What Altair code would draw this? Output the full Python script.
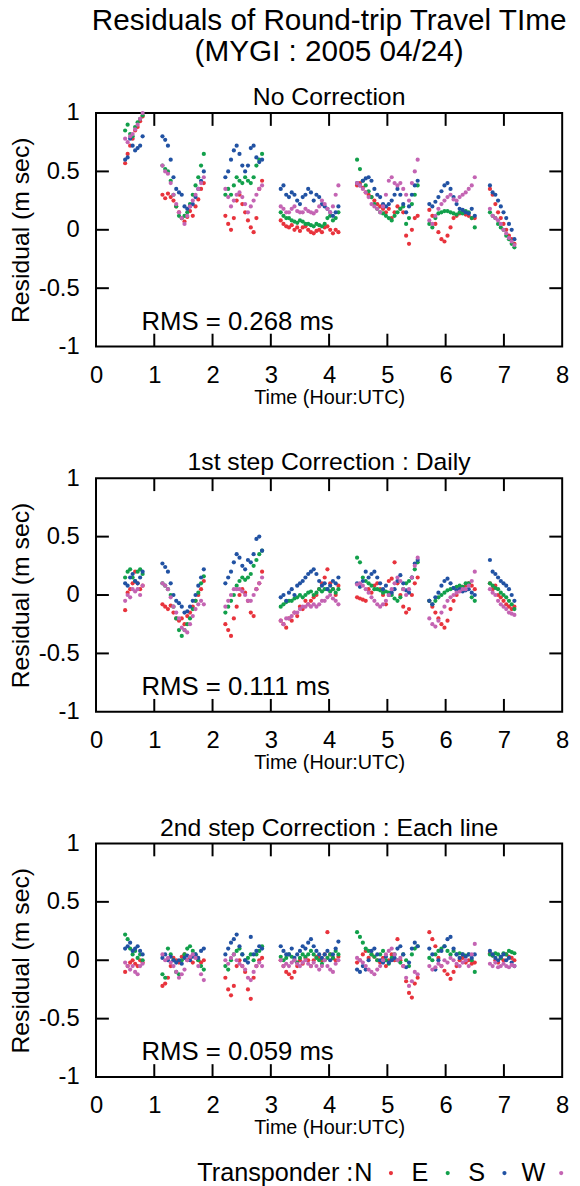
import altair as alt
import pandas as pd

FONT = "Liberation Sans"
SERIES = ["N", "E", "S", "W"]
COLORS = ["#e8333c", "#12a04b", "#2152a3", "#c464b3"]
PANEL_TITLES = ["No Correction", "1st step Correction : Daily", "2nd step Correction : Each line"]
RMS_TEXT = ["RMS = 0.268 ms", "RMS = 0.111 ms", "RMS = 0.059 ms"]
MAIN_TITLE = ["Residuals of Round-trip Travel TIme", "(MYGI : 2005 04/24)"]
X_TICKS = [0, 1, 2, 3, 4, 5, 6, 7, 8]
Y_TICKS = [-1, -0.5, 0, 0.5, 1]
INNER_X = [1, 2, 3, 4, 5, 6, 7]
INNER_Y = [-0.5, 0, 0.5]

# observation lines (hour UTC): start / end of each survey line
SEG_START = [0.50, 1.14, 2.22, 3.17, 4.48, 5.72, 6.76]
SEG_END = [0.80, 1.85, 2.85, 4.16, 5.52, 6.50, 7.18]

# ---------------- No Correction ----------------
P1_N = [
    [0.57, 0.65, 0.72, 0.78, 0.85, 0.88, 0.93, 0.97],
    [0.30, 0.27, 0.31, 0.28, 0.25, 0.20, 0.15, 0.10, 0.07, 0.11, 0.16, 0.12, 0.20, 0.26, 0.35, 0.40],
    [0.12, 0.05, 0.00, 0.10, 0.25, 0.30, 0.22, 0.15, 0.08, 0.02, -0.02, 0.10, 0.35, 0.42],
    [0.08, 0.05, 0.03, 0.02, 0.04, 0.00, 0.02, -0.01, 0.02, 0.03, 0.00, -0.02, -0.03, -0.01, 0.00, -0.02, 0.02, 0.03, 0.00, -0.03, 0.00, -0.02],
    [0.38, 0.40, 0.36, 0.32, 0.30, 0.28, 0.25, 0.22, 0.20, 0.18, 0.15, 0.18, 0.10, 0.15, 0.20, 0.18, 0.15, -0.05, -0.12, 0.00, 0.10, 0.12],
    [0.17, 0.12, 0.05, -0.02, -0.08, -0.10, -0.05, 0.02, 0.10, 0.12, 0.14, 0.15, 0.13, 0.12, 0.10, 0.10],
    [0.35, 0.30, 0.22, 0.15, 0.10, 0.05, 0.00, -0.05, -0.08, -0.12],
]
P1_E = [
    [0.85, 0.90, 0.82, 0.80, 0.88, 0.92, 0.95, 0.98],
    [0.55, 0.52, 0.50, 0.42, 0.30, 0.20, 0.12, 0.10, 0.12, 0.15, 0.22, 0.30, 0.38, 0.45, 0.55, 0.65],
    [0.30, 0.35, 0.30, 0.38, 0.45, 0.42, 0.40, 0.45, 0.42, 0.40, 0.45, 0.55, 0.60, 0.65],
    [0.15, 0.12, 0.10, 0.10, 0.08, 0.07, 0.06, 0.08, 0.07, 0.05, 0.05, 0.04, 0.03, 0.05, 0.04, 0.03, 0.05, 0.10, 0.12, 0.08, 0.10, 0.15],
    [0.60, 0.52, 0.42, 0.38, 0.33, 0.28, 0.22, 0.18, 0.15, 0.14, 0.12, 0.10, 0.08, 0.12, 0.15, 0.18, 0.20, 0.05, 0.10, 0.22, 0.30, 0.38],
    [0.05, 0.02, 0.10, 0.14, 0.15, 0.16, 0.16, 0.15, 0.14, 0.13, 0.15, 0.14, 0.16, 0.15, 0.10, 0.02],
    [0.15, 0.12, 0.10, 0.05, 0.02, 0.00, -0.05, -0.08, -0.12, -0.15],
]
P1_S = [
    [0.60, 0.62, 0.78, 0.72, 0.68, 0.70, 0.72, 0.80],
    [0.80, 0.77, 0.72, 0.60, 0.45, 0.35, 0.32, 0.30, 0.20, 0.18, 0.20, 0.22, 0.28, 0.35, 0.42, 0.50],
    [0.45, 0.50, 0.60, 0.68, 0.72, 0.65, 0.55, 0.50, 0.55, 0.70, 0.72, 0.62, 0.58, 0.60],
    [0.35, 0.38, 0.30, 0.28, 0.32, 0.30, 0.25, 0.22, 0.28, 0.30, 0.35, 0.32, 0.25, 0.30, 0.28, 0.22, 0.20, 0.18, 0.15, 0.12, 0.15, 0.20],
    [0.40, 0.38, 0.42, 0.44, 0.45, 0.42, 0.35, 0.30, 0.28, 0.22, 0.20, 0.22, 0.25, 0.30, 0.35, 0.30, 0.22, 0.15, 0.20, 0.30, 0.38, 0.42],
    [0.22, 0.20, 0.24, 0.28, 0.33, 0.38, 0.40, 0.35, 0.28, 0.22, 0.18, 0.17, 0.15, 0.14, 0.18, 0.12],
    [0.38, 0.32, 0.30, 0.25, 0.20, 0.15, 0.10, 0.05, 0.00, -0.08],
]
P1_W = [
    [0.78, 0.75, 0.80, 0.82, 0.86, 0.90, 0.95, 1.00],
    [0.55, 0.50, 0.48, 0.40, 0.30, 0.22, 0.15, 0.10, 0.05, 0.12, 0.20, 0.25, 0.30, 0.35, 0.40, 0.45],
    [0.35, 0.28, 0.20, 0.25, 0.30, 0.32, 0.28, 0.22, 0.15, 0.20, 0.25, 0.30, 0.35, 0.38],
    [0.20, 0.18, 0.15, 0.15, 0.18, 0.20, 0.16, 0.15, 0.15, 0.18, 0.16, 0.15, 0.14, 0.16, 0.20, 0.25, 0.22, 0.18, 0.15, 0.20, 0.30, 0.38],
    [0.40, 0.38, 0.35, 0.32, 0.28, 0.22, 0.20, 0.18, 0.15, 0.20, 0.30, 0.42, 0.45, 0.40, 0.38, 0.40, 0.35, 0.30, 0.25, 0.40, 0.50, 0.60],
    [0.08, 0.05, 0.12, 0.18, 0.22, 0.25, 0.28, 0.30, 0.26, 0.25, 0.28, 0.30, 0.32, 0.35, 0.38, 0.45],
    [0.18, 0.12, 0.10, 0.08, 0.05, 0.00, -0.03, -0.07, -0.10, -0.13],
]

# ---------------- 1st step Correction : Daily ----------------
P2_N = [
    [-0.13, 0.02, 0.05, 0.10, 0.20, 0.10, 0.05, 0.08],
    [-0.08, -0.10, -0.12, -0.09, -0.15, -0.20, -0.22, -0.20, -0.25, -0.18, -0.15, -0.10, -0.05, 0.00, 0.05, 0.12],
    [-0.25, -0.30, -0.35, -0.20, -0.10, 0.00, 0.05, 0.02, -0.05, -0.15, -0.18, 0.05, 0.10, 0.20],
    [-0.22, -0.25, -0.28, -0.20, -0.22, -0.15, -0.18, -0.10, -0.12, -0.05, -0.08, -0.05, -0.02, 0.00, 0.05, 0.10, 0.15, 0.22, 0.10, 0.05, 0.00, 0.08],
    [-0.02, -0.03, -0.04, -0.05, 0.05, 0.02, 0.08, 0.10, 0.05, 0.00, -0.08, 0.12, 0.14, 0.28, 0.10, 0.00, -0.10, -0.15, -0.12, 0.00, 0.10, 0.15],
    [-0.05, -0.10, -0.15, -0.20, -0.25, -0.28, -0.22, -0.12, -0.05, 0.00, 0.05, 0.07, 0.08, 0.10, 0.08, 0.05],
    [0.10, 0.05, 0.08, 0.00, -0.02, -0.05, -0.08, -0.10, -0.12, -0.10],
]
P2_E = [
    [0.15, 0.20, 0.22, 0.15, 0.12, 0.20, 0.22, 0.18],
    [0.10, 0.08, 0.05, 0.00, -0.10, -0.20, -0.30, -0.35, -0.30, -0.25, -0.20, -0.12, -0.05, 0.02, 0.10, 0.16],
    [-0.15, -0.10, -0.05, 0.00, 0.08, 0.12, 0.15, 0.13, 0.15, 0.18, 0.25, 0.30, 0.35, 0.38],
    [-0.10, -0.08, -0.06, -0.05, -0.05, -0.03, -0.02, 0.00, -0.02, 0.00, 0.02, 0.03, 0.00, 0.02, 0.05, 0.03, 0.05, 0.05, 0.03, 0.05, 0.02, 0.05],
    [0.32, 0.28, 0.15, 0.12, 0.10, 0.08, 0.05, 0.05, 0.04, 0.02, 0.03, 0.02, 0.00, -0.03, -0.05, -0.02, 0.05, 0.10, 0.12, 0.15, 0.22, 0.28],
    [-0.05, -0.08, -0.05, -0.02, 0.00, 0.02, 0.04, 0.05, 0.06, 0.07, 0.08, 0.07, 0.10, 0.10, -0.02, -0.05],
    [0.10, 0.08, 0.06, 0.05, 0.02, 0.00, -0.02, -0.05, -0.08, -0.12],
]
P2_S = [
    [0.10, 0.08, 0.15, 0.18, 0.12, 0.10, 0.15, 0.20],
    [0.27, 0.24, 0.20, 0.10, 0.00, -0.05, -0.07, -0.10, -0.15, -0.14, -0.10, -0.05, 0.00, 0.08, 0.15, 0.22],
    [0.10, 0.15, 0.20, 0.28, 0.35, 0.32, 0.25, 0.22, 0.30, 0.28, 0.35, 0.48, 0.50, 0.38],
    [-0.02, 0.00, -0.05, 0.02, 0.05, 0.00, 0.08, 0.10, 0.12, 0.15, 0.18, 0.20, 0.22, 0.18, 0.12, 0.08, 0.10, 0.05, 0.08, 0.12, 0.10, 0.15],
    [0.10, 0.07, 0.12, 0.20, 0.15, 0.18, 0.20, 0.15, 0.10, 0.05, 0.08, 0.00, 0.02, 0.05, 0.12, 0.17, 0.10, 0.04, 0.02, 0.15, 0.27, 0.30],
    [-0.05, -0.08, -0.02, 0.02, 0.08, 0.12, 0.14, 0.10, 0.06, 0.04, 0.05, 0.03, 0.04, 0.05, 0.02, 0.00],
    [0.30, 0.20, 0.18, 0.15, 0.12, 0.10, 0.08, 0.05, 0.00, -0.05],
]
P2_W = [
    [-0.05, 0.00, -0.02, 0.05, 0.03, 0.05, 0.00, 0.08],
    [0.10, 0.08, 0.05, -0.02, -0.10, -0.15, -0.20, -0.28, -0.30, -0.32, -0.25, -0.18, -0.12, -0.08, -0.05, -0.08],
    [-0.10, -0.05, 0.00, 0.05, 0.05, 0.05, 0.03, 0.00, -0.05, -0.05, 0.00, 0.05, 0.10, 0.15],
    [-0.22, -0.25, -0.20, -0.20, -0.18, -0.15, -0.15, -0.12, -0.10, -0.10, -0.08, -0.10, -0.08, -0.10, -0.08, -0.05, -0.05, -0.02, 0.00, -0.03, -0.05, -0.08],
    [0.09, 0.10, 0.08, 0.05, 0.02, -0.02, -0.05, -0.08, -0.10, -0.08, -0.05, 0.00, 0.05, 0.10, 0.15, 0.12, 0.05, 0.00, 0.05, 0.15, 0.25, 0.32],
    [-0.20, -0.25, -0.27, -0.22, -0.15, -0.10, -0.05, -0.02, 0.00, 0.02, 0.03, 0.05, 0.05, 0.08, 0.12, 0.20],
    [0.05, 0.02, 0.00, -0.05, -0.08, -0.10, -0.12, -0.15, -0.16, -0.17],
]

# ---------------- 2nd step Correction : Each line ----------------
P3_N = [
    [-0.10, -0.05, -0.02, 0.00, -0.03, -0.05, 0.00, -0.02],
    [-0.22, -0.20, -0.15, -0.05, 0.02, 0.00, -0.02, 0.03, 0.05, 0.00, 0.02, -0.02, 0.04, 0.00, -0.02, 0.00],
    [-0.15, -0.25, -0.30, -0.22, -0.05, 0.00, -0.05, -0.10, -0.25, -0.33, -0.15, -0.05, 0.00, 0.02],
    [0.00, -0.05, -0.10, -0.12, -0.15, -0.10, -0.05, 0.00, -0.03, 0.02, 0.00, -0.05, 0.00, 0.03, 0.02, 0.00, 0.05, 0.24, 0.05, 0.02, 0.00, 0.03],
    [-0.02, 0.00, 0.05, 0.08, 0.02, 0.05, 0.03, 0.00, -0.02, 0.02, -0.05, 0.00, 0.05, 0.00, 0.18, 0.00, -0.05, -0.18, -0.28, -0.32, -0.20, -0.15],
    [0.24, 0.18, 0.12, 0.02, -0.05, -0.09, -0.12, -0.16, -0.10, -0.05, 0.00, 0.02, -0.02, 0.00, -0.03, -0.02],
    [0.06, 0.04, 0.00, -0.02, 0.02, 0.00, 0.05, 0.03, 0.02, 0.00],
]
P3_E = [
    [0.22, 0.18, 0.10, 0.05, 0.08, 0.02, 0.05, 0.00],
    [-0.12, -0.15, 0.10, 0.05, 0.00, -0.10, -0.12, 0.00, 0.05, 0.10, 0.12, 0.08, 0.05, 0.00, -0.05, -0.08],
    [-0.05, -0.08, 0.00, 0.05, 0.08, 0.10, 0.05, 0.00, 0.02, 0.05, 0.00, 0.05, 0.08, 0.12],
    [0.03, 0.00, 0.02, 0.05, 0.03, 0.00, -0.02, 0.02, 0.05, 0.03, 0.05, 0.08, 0.05, 0.02, 0.00, -0.03, 0.00, 0.02, 0.05, 0.02, 0.08, 0.05],
    [0.24, 0.20, 0.15, 0.10, 0.08, 0.05, 0.03, 0.00, 0.05, 0.08, 0.00, -0.03, 0.02, 0.05, 0.00, -0.02, 0.05, 0.00, -0.05, 0.05, 0.10, 0.12],
    [0.02, 0.00, 0.05, 0.08, 0.10, 0.12, 0.08, 0.05, 0.08, 0.05, 0.06, 0.05, 0.04, 0.05, 0.00, -0.10],
    [0.05, 0.04, 0.06, 0.05, 0.02, 0.06, 0.05, 0.08, 0.07, 0.06],
]
P3_S = [
    [0.10, 0.12, 0.15, 0.08, 0.10, 0.12, 0.08, 0.05],
    [0.02, 0.05, 0.00, 0.03, 0.00, -0.02, 0.00, -0.03, 0.02, 0.04, 0.00, 0.03, 0.05, 0.02, 0.08, 0.10],
    [0.05, 0.10, 0.15, 0.18, 0.22, 0.12, 0.05, 0.00, -0.02, 0.20, 0.05, 0.08, 0.12, 0.10],
    [0.12, 0.08, 0.05, 0.05, 0.10, 0.02, 0.05, 0.08, 0.12, 0.10, 0.15, 0.18, 0.12, 0.08, 0.05, 0.02, 0.05, 0.08, 0.00, 0.05, 0.10, 0.16],
    [-0.08, -0.10, -0.05, -0.08, 0.00, 0.08, 0.10, 0.05, 0.00, -0.02, 0.03, -0.02, 0.00, 0.02, 0.10, 0.12, 0.05, -0.06, -0.02, 0.10, 0.15, 0.12],
    [0.10, 0.05, -0.08, 0.00, 0.08, 0.12, 0.18, 0.20, 0.10, 0.05, 0.02, 0.05, 0.03, 0.05, 0.02, 0.05],
    [0.08, 0.05, 0.02, 0.00, 0.03, 0.05, 0.00, 0.02, -0.02, -0.05],
]
P3_W = [
    [-0.02, -0.05, -0.08, -0.05, -0.10, -0.12, -0.05, -0.03],
    [0.05, 0.00, 0.02, -0.02, -0.05, -0.10, -0.15, -0.12, -0.08, 0.00, 0.03, 0.05, 0.02, -0.05, -0.12, -0.17],
    [0.00, -0.03, 0.02, 0.05, 0.00, -0.03, -0.05, -0.08, -0.15, -0.17, -0.10, -0.05, -0.02, -0.05],
    [0.00, -0.05, -0.03, -0.05, -0.02, 0.00, -0.03, -0.05, -0.02, 0.00, -0.03, -0.05, -0.02, -0.05, -0.08, -0.05, 0.00, -0.05, -0.08, -0.10, -0.03, 0.00],
    [0.02, 0.00, -0.02, -0.05, -0.08, -0.10, -0.12, -0.08, -0.05, 0.00, 0.05, 0.08, 0.10, 0.05, 0.00, 0.02, -0.05, -0.15, -0.22, -0.18, -0.10, -0.12],
    [-0.05, -0.08, -0.06, -0.03, -0.05, 0.00, -0.02, 0.02, 0.00, -0.03, -0.05, -0.02, 0.00, -0.05, 0.05, 0.14],
    [-0.03, -0.05, -0.02, -0.06, -0.05, -0.03, -0.05, -0.06, -0.04, -0.05],
]

PANELS = [
    [P1_N, P1_E, P1_S, P1_W],
    [P2_N, P2_E, P2_S, P2_W],
    [P3_N, P3_E, P3_S, P3_W],
]

PW, PH = 471, 236
TICK_LEN = 13

color_scale = alt.Scale(domain=SERIES, range=COLORS)
x_scale = alt.Scale(domain=[0, 8], nice=False, zero=False)
y_scale = alt.Scale(domain=[-1, 1], nice=False, zero=False)

x_axis = alt.Axis(
    values=X_TICKS, labelExpr="toString(datum.value)", ticks=False, tickSize=0,
    domain=False, grid=False, labelFontSize=24, labelPadding=17, labelColor="black",
    labelFont=FONT, labelFlush=False, title="Time (Hour:UTC)", titleFontSize=20,
    titleFontWeight="normal", titleColor="black", titleFont=FONT, titlePadding=0,
)
y_axis = alt.Axis(
    values=Y_TICKS, labelExpr="toString(datum.value)", ticks=False, tickSize=0,
    domain=False, grid=False, labelFontSize=24, labelPadding=17, labelColor="black",
    labelFont=FONT, labelFlush=False, title="Residual (m sec)", titleFontSize=25,
    titleFontWeight="normal", titleColor="black", titleFont=FONT, titlePadding=5,
)
frame_view = alt.ViewBackground(stroke="black", strokeWidth=2, strokeOpacity=1)


def build_frame(series_lists):
    rows = []
    for s_idx, s in enumerate(SERIES):
        for k, vals in enumerate(series_lists[s_idx]):
            n = len(vals)
            t0, t1 = SEG_START[k], SEG_END[k]
            for i, v in enumerate(vals):
                t = t0 + (t1 - t0) * i / (n - 1)
                rows.append({"time": t, "residual": v, "series": s, "ord": s_idx})
    return pd.DataFrame(rows)


def X():
    return alt.X("time:Q", scale=x_scale, axis=x_axis)


def Y():
    return alt.Y("residual:Q", scale=y_scale, axis=y_axis)


def make_panel(idx):
    df = build_frame(PANELS[idx])
    pts = alt.Chart(df).mark_circle(size=18, opacity=1).encode(
        x=X(), y=Y(),
        color=alt.Color("series:N", scale=color_scale, legend=None),
        order=alt.Order("ord:Q"),
    )
    xt = pd.DataFrame({"time": INNER_X})
    yt = pd.DataFrame({"residual": INNER_Y})
    top_t = alt.Chart(xt).mark_rule(color="black", strokeWidth=2).encode(
        x=X(), y=alt.value(0), y2=alt.value(TICK_LEN))
    bot_t = alt.Chart(xt).mark_rule(color="black", strokeWidth=2).encode(
        x=X(), y=alt.value(PH - TICK_LEN), y2=alt.value(PH))
    left_t = alt.Chart(yt).mark_rule(color="black", strokeWidth=2).encode(
        y=Y(), x=alt.value(0), x2=alt.value(TICK_LEN))
    right_t = alt.Chart(yt).mark_rule(color="black", strokeWidth=2).encode(
        y=Y(), x=alt.value(PW - TICK_LEN), x2=alt.value(PW))
    rms = alt.Chart(pd.DataFrame({"time": [0.78], "residual": [-0.79], "label": [RMS_TEXT[idx]]})).mark_text(
        align="left", baseline="middle", fontSize=26, font=FONT, color="black"
    ).encode(x=X(), y=Y(), text="label:N")

    main = alt.layer(pts, top_t, bot_t, left_t, right_t, rms)
    title = alt.TitleParams(PANEL_TITLES[idx], fontSize=25, fontWeight="normal", font=FONT,
                            color="black", anchor="middle", offset=-9)
    if idx == 2:
        leg_x = alt.X("series:N", scale=alt.Scale(type="point", domain=SERIES, range=[298, 470], padding=0), axis=None)
        ldf = pd.DataFrame({"series": SERIES})
        dots = alt.Chart(ldf).mark_circle(size=18, opacity=1).encode(
            x=leg_x, y=alt.value(333), color=alt.Color("series:N", scale=color_scale, legend=None))
        labs = alt.Chart(ldf).mark_text(fontSize=25.5, font=FONT, color="black", dx=-28, align="center", baseline="middle").encode(
            x=leg_x, y=alt.value(333), text="series:N")
        ttl = alt.Chart(pd.DataFrame({"series": ["N"], "label": ["Transponder :"]})).mark_text(
            fontSize=25.5, font=FONT, color="black", dx=-38, align="right", baseline="middle").encode(
            x=leg_x, y=alt.value(333), text="label:N")
        legend = alt.layer(dots, labs, ttl)
        return alt.layer(main, legend).resolve_scale(x="independent").properties(
            width=PW, height=PH, title=title, view=frame_view)
    return main.properties(width=PW, height=PH, title=title, view=frame_view)


panels = [make_panel(i) for i in range(3)]

chart = alt.vconcat(*panels, spacing=133, bounds="flush").properties(
    title=alt.TitleParams(MAIN_TITLE, fontSize=30, fontWeight="normal", font=FONT, color="black",
                          anchor="middle", frame="group", lineHeight=31, offset=18),
    padding={"left": 7, "top": 0, "right": 10, "bottom": 0},
).configure_view(stroke="black", strokeWidth=2, strokeOpacity=1).configure(font=FONT, background="white")

chart.save("out.html", embed_options={"renderer": "svg", "actions": False})
